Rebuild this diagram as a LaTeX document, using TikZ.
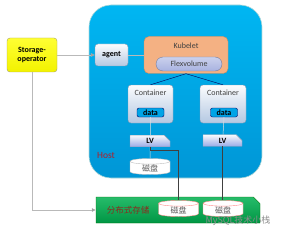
\documentclass[tikz,border=0pt]{standalone}
\usepackage{fontspec}
\setmainfont{Carlito}
\newfontfamily\cjk{Noto Sans CJK SC}
\usepackage{xcolor}
\usepackage{tikz}
\usetikzlibrary{shapes.misc,shapes.geometric,arrows.meta}

\definecolor{hosttop}{HTML}{00B6F2}
\definecolor{hostbot}{HTML}{0096D6}
\definecolor{peach}{HTML}{F4B183}
\definecolor{peachline}{HTML}{D98C55}
\definecolor{flexcol}{HTML}{A8B2E0}
\definecolor{boxbot}{HTML}{B4C8E2}
\definecolor{boxline}{HTML}{8A9CB4}
\definecolor{datablue}{HTML}{00A4E6}
\definecolor{gstore}{HTML}{00B050}
\definecolor{hostred}{HTML}{B0202A}
\definecolor{storred}{HTML}{8C2A1E}

\begin{document}
\begin{tikzpicture}[x=1pt, y=-1pt, font=\fontsize{8}{9}\selectfont,
    greybox/.style={draw=boxline, rounded corners=3pt, top color=white!95!boxbot, bottom color=boxbot, text=black!75, inner sep=1pt},
    datatag/.style={draw=blue!40!black, rounded corners=2pt, fill=datablue, font=\fontsize{8}{9}\selectfont\bfseries, minimum width=27pt, minimum height=9pt, inner sep=0pt},
    lvtag/.style={chamfered rectangle, chamfered rectangle corners=north east, chamfered rectangle xsep=4pt, draw=boxline, top color=white!90!boxbot, bottom color=boxbot!85!blue, font=\fontsize{8}{9}\selectfont\bfseries, minimum width=40pt, minimum height=10pt, inner sep=0pt},
    disk/.style={cylinder, shape border rotate=90, aspect=0.35, draw=gray!50, fill=white, text=gray!70!black, minimum width=40pt, minimum height=16pt, inner sep=0pt},
    link/.style={gray!55, line width=0.7pt},
    thinlink/.style={blue!35!black, line width=0.4pt},
    feed/.style={black!75, line width=0.7pt},
    tip/.style={-{Triangle[length=4pt,width=3.5pt,fill=black!80]}}]
\useasboundingbox (0,0) rectangle (281,230);

% host area
\node[draw=teal!30, line width=0.6pt, rounded corners=22pt, top color=hosttop, bottom color=hostbot, minimum width=173pt, minimum height=173pt] (host) at (175.5,91.5) {};
\node[text=hostred, font=\fontsize{9.5}{11}\selectfont] (hostlbl) at (106,155) {Host};

% operator and agent
\node[draw=gray!50!yellow!80!black, rounded corners=3pt, top color=yellow!80!white, bottom color=yellow!95!black, minimum width=50pt, minimum height=34pt, align=center, font=\fontsize{8}{9.5}\selectfont\bfseries, inner sep=0pt] (oper) at (32,55) {Storage-\\operator};
\node[greybox, minimum width=33pt, minimum height=22pt, font=\fontsize{8}{9}\selectfont\bfseries, text=black] (agent) at (111.5,55) {agent};

% kubelet
\node[draw=peachline, rounded corners=5pt, fill=peach, minimum width=84pt, minimum height=37pt] (kubelet) at (186,55) {};
\node[text=black!75] (kubetxt) at (186,46) {Kubelet};
\node[draw=flexcol!70!black, rounded corners=7pt, top color=flexcol!60!white, bottom color=flexcol, minimum width=66pt, minimum height=14pt, inner sep=0pt, text=black!75] (flex) at (189,64) {Flexvolume};

% containers
\node[greybox, minimum width=45pt, minimum height=38pt] (cont1) at (150.5,104) {};
\node[greybox, minimum width=46pt, minimum height=38pt] (cont2) at (223,104) {};
\node[text=black!75] (c1txt) at (150.5,93) {Container};
\node[text=black!75] (c2txt) at (223,93) {Container};
\node[datatag] (data1) at (150.5,112.5) {data};
\node[datatag] (data2) at (224,112.5) {data};

% local disk
\node[disk] (disk1) at (150,168) {\cjk 磁盘};

% distributed storage
\node[chamfered rectangle, chamfered rectangle corners=north east, chamfered rectangle xsep=12pt, chamfered rectangle ysep=8pt, draw=green!45!black, top color=gstore!85!white, bottom color=gstore!85!black, minimum width=164pt, minimum height=26pt] (store) at (178,210) {};
\node[text=storred, font=\cjk\fontsize{8.5}{10}\selectfont] (storlbl) at (128,210.5) {分布式存储};
\node[disk, draw=red!45] (disk3) at (178.5,210) {\cjk 磁盘};
\node[disk, draw=red!45] (disk4) at (223,210) {\cjk 磁盘};

% connectors
\draw[link, tip] (oper) -- (agent);
\draw[link, tip] (oper.south) |- (store.west);
\draw[link] (agent) -- (kubelet);
\draw[thinlink] (kubelet.south) -- (cont1.north);
\draw[thinlink] (kubelet.south) -- (cont2.north);
\draw[white!75!gray, line width=0.5pt] (data1.south) -- (disk1.north);
\draw[white!75!gray, line width=0.5pt] (data2.south) -- (223,135);

\node[lvtag] (lv1) at (150,141) {LV};
\node[lvtag, minimum width=39pt] (lv2) at (222.5,140.5) {LV};

\draw[feed] (lv1.south) -- ++(0,3.5) -| (disk3.north);
\draw[feed] (lv2.south) -- (lv2.south |- disk4.north);

% watermark
\node[text=black!45, font=\cjk\fontsize{9}{10}\selectfont, inner sep=0pt] (mark) at (238,221) {MySQL技术小栈};
\end{tikzpicture}
\end{document}
